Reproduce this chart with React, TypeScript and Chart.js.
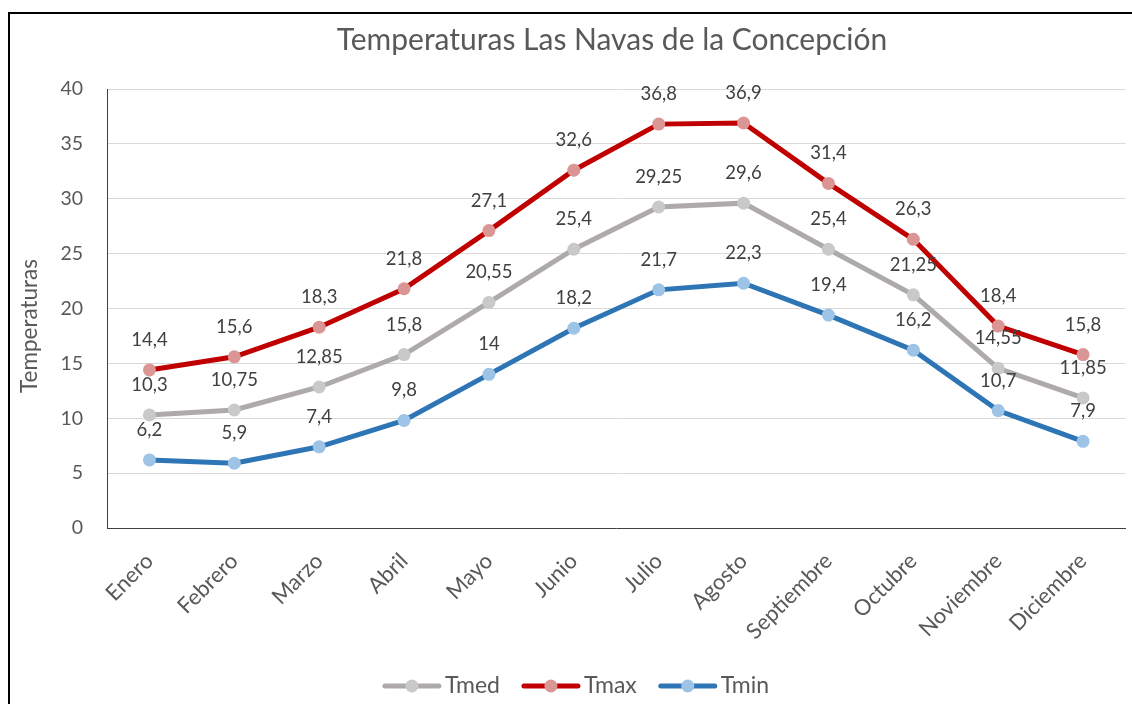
import React, { useEffect, useRef } from "react";
import { Chart, registerables } from "chart.js";

Chart.register(...registerables);

const months = ["Enero", "Febrero", "Marzo", "Abril", "Mayo", "Junio", "Julio", "Agosto", "Septiembre", "Octubre", "Noviembre", "Diciembre"];
const tmed = [10.3, 10.75, 12.85, 15.8, 20.55, 25.4, 29.25, 29.6, 25.4, 21.25, 14.55, 11.85];
const tmax = [14.4, 15.6, 18.3, 21.8, 27.1, 32.6, 36.8, 36.9, 31.4, 26.3, 18.4, 15.8];
const tmin = [6.2, 5.9, 7.4, 9.8, 14, 18.2, 21.7, 22.3, 19.4, 16.2, 10.7, 7.9];
const seriesNames = ["Tmed", "Tmax", "Tmin"];
const lineColors = ["#AEAAAA", "#C00000", "#2E75B6"];
const markerColors = ["#C9C9C9", "#DA9694", "#9DC3E6"];
const titleText = "Temperaturas Las Navas de la Concepción";
const yTitleText = "Temperaturas";

const FONT = "Lato, 'Open Sans', sans-serif";
const fmt = (v: number) => String(v).replace(".", ",");

const overlay = {
  id: "overlay",
  afterDatasetsDraw(chart: any) {
    const ctx = chart.ctx;
    ctx.save();
    ctx.font = `18.5px ${FONT}`;
    ctx.fillStyle = "#404040";
    ctx.textAlign = "center";
    ctx.textBaseline = "middle";
    chart.data.datasets.forEach((ds: any, i: number) => {
      const meta = chart.getDatasetMeta(i);
      meta.data.forEach((pt: any, j: number) => {
        ctx.fillText(fmt(ds.data[j]), pt.x, pt.y - 30);
      });
    });
    ctx.restore();
  },
  afterDraw(chart: any) {
    const ctx = chart.ctx;
    ctx.save();
    // title
    ctx.font = `30px ${FONT}`;
    ctx.fillStyle = "#595959";
    ctx.textAlign = "center";
    ctx.textBaseline = "middle";
    ctx.fillText(titleText, 602, 26);
    // y title
    ctx.save();
    ctx.translate(20, 312);
    ctx.rotate(-Math.PI / 2);
    ctx.font = `22.5px ${FONT}`;
    ctx.fillText(yTitleText, 0, 0);
    ctx.restore();
    // legend
    ctx.font = `23px ${FONT}`;
    ctx.textAlign = "left";
    const lineLen = 58;
    const gapText = 4;
    const gapItem = 22;
    const widths = seriesNames.map((n) => lineLen + gapText + ctx.measureText(n).width);
    const total = widths.reduce((a, b) => a + b, 0) + gapItem * (seriesNames.length - 1);
    let x = 566 - total / 2;
    const y = 672;
    seriesNames.forEach((n, i) => {
      ctx.strokeStyle = lineColors[i];
      ctx.lineWidth = 5;
      ctx.lineCap = "round";
      ctx.beginPath();
      ctx.moveTo(x + 2, y);
      ctx.lineTo(x + lineLen - 2, y);
      ctx.stroke();
      ctx.fillStyle = markerColors[i];
      ctx.beginPath();
      ctx.arc(x + lineLen / 2, y, 6.5, 0, Math.PI * 2);
      ctx.fill();
      ctx.fillStyle = "#595959";
      ctx.fillText(n, x + lineLen + gapText, y);
      x += widths[i] + gapItem;
    });
    ctx.restore();
  },
};

export default function App() {
  const ref = useRef<HTMLCanvasElement>(null);
  useEffect(() => {
    if (!ref.current) return;
    const seriesData = [tmed, tmax, tmin];
    const chart = new Chart(ref.current, {
      type: "line",
      data: {
        labels: months,
        datasets: seriesNames.map((name, i) => ({
          label: name,
          data: seriesData[i],
          borderColor: lineColors[i],
          backgroundColor: markerColors[i],
          borderWidth: 5,
          pointRadius: 6.5,
          pointHoverRadius: 6.5,
          pointBackgroundColor: markerColors[i],
          pointBorderWidth: 0,
          tension: 0,
          fill: false,
          order: 3 - i,
        })),
      },
      options: {
        responsive: false,
        animation: false,
        layout: { padding: { top: 75, right: 3, left: 0, bottom: 0 } },
        plugins: {
          legend: { display: false },
          title: { display: false },
          tooltip: { enabled: false },
        },
        scales: {
          x: {
            type: "category",
            offset: true,
            grid: { display: false },
            border: { display: true, color: "#404040", width: 1 },
            ticks: {
              color: "#595959",
              font: { family: FONT, size: 22 },
              maxRotation: 45,
              minRotation: 45,
              padding: 12,
            },
            afterFit: (s: any) => {
              s.height = 176;
            },
          },
          y: {
            min: 0,
            max: 40,
            ticks: {
              stepSize: 5,
              color: "#595959",
              font: { family: FONT, size: 19.5 },
              padding: 24,
            },
            grid: { color: "#D9D9D9", lineWidth: 1, drawTicks: false },
            border: { display: true, color: "#404040", width: 1 },
            afterFit: (s: any) => {
              s.width = 97;
            },
          },
        },
      },
      plugins: [overlay],
    });
    return () => chart.destroy();
  }, []);

  return (
    <div
      style={{
        position: "fixed",
        left: 8,
        top: 12,
        width: 1124,
        height: 692,
        borderLeft: "2px solid #000",
        borderTop: "2px solid #000",
        boxSizing: "border-box",
        background: "#fff",
        overflow: "hidden",
      }}
    >
      <canvas ref={ref} width={1122} height={690} style={{ display: "block" }} />
    </div>
  );
}
